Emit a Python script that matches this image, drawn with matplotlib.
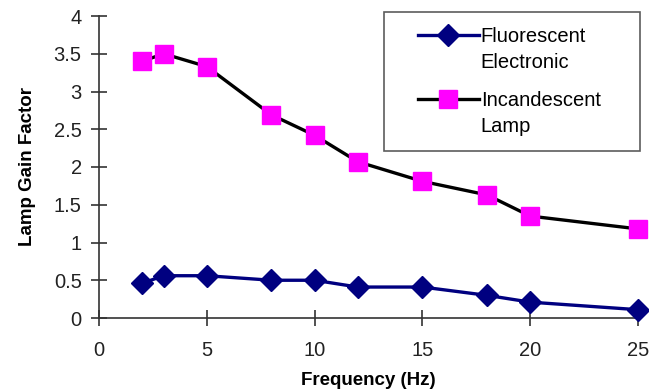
import matplotlib
matplotlib.use("Agg")
import matplotlib.pyplot as plt
from matplotlib.legend_handler import HandlerLine2D

freq = [2, 3, 5, 8, 10, 12, 15, 18, 20, 25]
fluorescent = [0.46, 0.56, 0.56, 0.50, 0.50, 0.41, 0.41, 0.30, 0.21, 0.11]
incandescent = [3.40, 3.50, 3.33, 2.69, 2.42, 2.07, 1.81, 1.63, 1.35, 1.18]
xticks = [0, 5, 10, 15, 20, 25]
yticks = [0, 0.5, 1, 1.5, 2, 2.5, 3, 3.5, 4]
ytick_labels = ["0", "0.5", "1", "1.5", "2", "2.5", "3", "3.5", "4"]

plt.rcParams['font.family'] = ['Liberation Sans', 'DejaVu Sans']


class ShiftHandler(HandlerLine2D):
    """Line handle raised to the first text line and indented on the left."""
    def __init__(self, dy, gap, **kw):
        super().__init__(**kw)
        self.dy = dy
        self.gap = gap

    def create_artists(self, legend, orig_handle, xdescent, ydescent, width,
                       height, fontsize, trans):
        return super().create_artists(legend, orig_handle,
                                      xdescent - self.gap,
                                      ydescent - self.dy,
                                      width - self.gap, height,
                                      fontsize, trans)


fig = plt.figure(figsize=(6.49, 3.92), dpi=100)
ax = fig.add_axes([99/649, 74/392, 539/649, 302/392])

l1, = ax.plot(freq, fluorescent, color='#000080', lw=2.4, marker='D', markersize=11,
              markerfacecolor='#000080', markeredgecolor='#000080',
              label='Fluorescent\nElectronic', clip_on=False, zorder=3)
l2, = ax.plot(freq, incandescent, color='black', lw=2.4, marker='s', markersize=12.5,
              markerfacecolor='#ff00ff', markeredgecolor='#ff00ff',
              label='Incandescent\nLamp', clip_on=False, zorder=3)

ax.set_xlim(0, 25)
ax.set_ylim(0, 4)
ax.set_xticks(xticks)
ax.set_yticks(yticks)
ax.set_yticklabels(ytick_labels)
for s in ['top', 'right']:
    ax.spines[s].set_visible(False)
for s in ['left', 'bottom']:
    ax.spines[s].set_color('#333333')
    ax.spines[s].set_linewidth(1.2)
ax.tick_params(direction='inout', length=11, width=1.2, labelsize=14.5,
               colors='#333333', labelcolor='#222222')
ax.tick_params(axis='x', pad=11)
ax.tick_params(axis='y', pad=7)

ax.set_xlabel('Frequency (Hz)', fontsize=13.5, fontweight='bold', labelpad=9)
ax.set_ylabel('Lamp Gain Factor', fontsize=13.5, fontweight='bold', labelpad=13)

leg = ax.legend(handles=[l1, l2], loc='upper left',
                bbox_to_anchor=(384/649, 0, 256/649, 1 - 12/392),
                bbox_transform=fig.transFigure, mode='expand',
                fontsize=14.5, frameon=True,
                fancybox=False, edgecolor='#333333', handlelength=3.95,
                labelspacing=0.95, borderpad=0.75, handletextpad=0.1,
                borderaxespad=0,
                handler_map={l1: ShiftHandler(21, 13.7),
                             l2: ShiftHandler(21, 13.7)})
leg.get_frame().set_linewidth(1.2)
for t in leg.get_texts():
    t.set_linespacing(1.45)

fig.savefig('out.png', dpi=100)
